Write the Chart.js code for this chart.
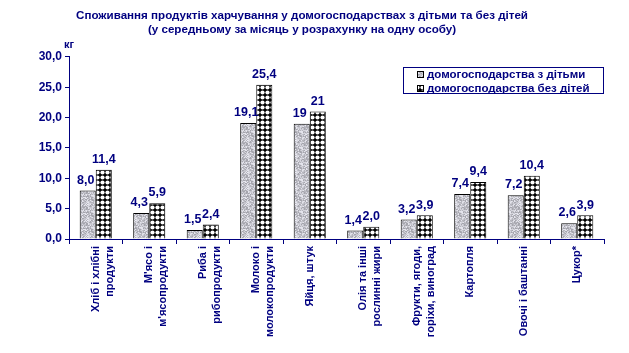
<!DOCTYPE html>
<html>
<head>
<meta charset="utf-8">
<script src="https://cdn.jsdelivr.net/npm/chart.js@4/dist/chart.umd.min.js"></script>
<style>
html,body{margin:0;padding:0;background:#fff;}
#wrap{position:relative;width:629px;height:353px;}
</style>
</head>
<body>
<div id="wrap"><canvas id="c" width="629" height="353"></canvas></div>
<script>
const titleLines = ["Споживання продуктів харчування у домогосподарствах з дітьми та без дітей", "(у середньому за місяць у розрахунку на одну особу)"];
const unitLabel = "кг";
const categories = [
  ["Хліб і хлібні", "продукти"],
  ["М'ясо і", "м'ясопродукти"],
  ["Риба і", "рибопродукти"],
  ["Молоко і", "молокопродукти"],
  "Яйця, штук",
  ["Олія та інші", "рослинні жири"],
  ["Фрукти, ягоди,", "горіхи, виноград"],
  "Картопля",
  "Овочі і баштанні",
  "Цукор*"
];
const seriesNames = ["домогосподарства з дітьми", "домогосподарства без дітей"];
const withChildren = [8.0, 4.3, 1.5, 19.1, 19, 1.4, 3.2, 7.4, 7.2, 2.6];
const withoutChildren = [11.4, 5.9, 2.4, 25.4, 21, 2.0, 3.9, 9.4, 10.4, 3.9];
const labelDecimals = [1, 1, 1, 1, 0, 1, 1, 1, 1, 1];
const yTicks = [0, 5, 10, 15, 20, 25, 30];

const NAVY = "#000080";
const FONT = "'Liberation Sans', Arial, sans-serif";

function makeGranite() {
  const c = document.createElement("canvas");
  c.width = 16; c.height = 16;
  const g = c.getContext("2d");
  const img = g.createImageData(16, 16);
  for (let i = 0; i < 256; i++) {
    let h = (i * 2654435761) >>> 0;
    h = ((h ^ (h >>> 13)) * 1274126177) >>> 0;
    const v = 165 + (h % 80);
    img.data[i*4] = v; img.data[i*4+1] = v; img.data[i*4+2] = Math.min(255, v + 8); img.data[i*4+3] = 255;
  }
  g.putImageData(img, 0, 0);
  return g.createPattern(c, "repeat");
}
function makeCircles() {
  const c = document.createElement("canvas");
  c.width = 5; c.height = 5;
  const g = c.getContext("2d");
  g.fillStyle = "#000"; g.fillRect(0, 0, 5, 5);
  g.fillStyle = "#fff";
  g.beginPath(); g.arc(2.5, 2.5, 2.1, 0, Math.PI * 2); g.fill();
  return g.createPattern(c, "repeat");
}
const granite = makeGranite();
const circles = makeCircles();

function fmt(v, d) { return v.toFixed(d).replace(".", ","); }

const valueLabels = {
  id: "valueLabels",
  afterDatasetsDraw(chart) {
    const ctx = chart.ctx;
    ctx.save();
    ctx.font = "bold 12.5px " + FONT;
    ctx.fillStyle = NAVY;
    ctx.textAlign = "center";
    ctx.textBaseline = "bottom";
    chart.data.datasets.forEach((ds, di) => {
      const meta = chart.getDatasetMeta(di);
      meta.data.forEach((el, i) => {
        ctx.fillText(fmt(ds.data[i], labelDecimals[i]), el.x - (di === 0 ? 2 : 0), el.y - 4);
      });
    });
    ctx.restore();
  }
};

const extras = {
  id: "extras",
  afterDraw(chart) {
    const ctx = chart.ctx;
    const ca = chart.chartArea;
    ctx.save();
    ctx.font = "bold 11px " + FONT;
    ctx.fillStyle = NAVY;
    ctx.textAlign = "left";
    ctx.textBaseline = "middle";
    ctx.fillText(unitLabel, ca.left - 5, ca.top - 12);
    // legend box
    const bx = 403, by = 67, bw = 200, bh = 26;
    ctx.strokeStyle = NAVY; ctx.lineWidth = 1;
    ctx.strokeRect(bx + 0.5, by + 0.5, bw, bh);
    const fills = [granite, circles];
    ctx.font = "bold 11.5px " + FONT;
    seriesNames.forEach((n, i) => {
      const cy = by + 7 + i * 14;
      ctx.fillStyle = fills[i];
      ctx.fillRect(417, cy - 3, 7, 7);
      ctx.strokeStyle = "#000";
      ctx.strokeRect(417.5, cy - 2.5, 6, 6);
      ctx.fillStyle = NAVY;
      ctx.fillText(n, 427, cy + 1);
    });
    ctx.restore();
  }
};

new Chart(document.getElementById("c"), {
  type: "bar",
  data: {
    labels: categories,
    datasets: [
      { label: seriesNames[0], data: withChildren, backgroundColor: granite, borderColor: "#000", borderWidth: 1, categoryPercentage: 0.6, barPercentage: 1.0 },
      { label: seriesNames[1], data: withoutChildren, backgroundColor: circles, borderColor: "#000", borderWidth: 1, categoryPercentage: 0.6, barPercentage: 1.0 }
    ]
  },
  options: {
    responsive: false,
    animation: false,
    layout: { padding: { left: 0, right: 25, top: 1, bottom: 0 } },
    plugins: {
      legend: { display: false },
      tooltip: { enabled: false },
      title: {
        display: true,
        text: titleLines,
        color: NAVY,
        font: { family: FONT, size: 11.6, weight: "bold", lineHeight: 1.2 },
        padding: { top: 8, bottom: 20 }
      }
    },
    scales: {
      x: {
        grid: { display: true, drawOnChartArea: false, offset: true, color: NAVY, tickLength: 5 },
        border: { color: NAVY },
        ticks: { color: NAVY, font: { family: FONT, size: 11, weight: "bold", lineHeight: 1.27 }, minRotation: 90, maxRotation: 90, autoSkip: false, padding: 2 },
        afterFit(s) { s.height = 114; }
      },
      y: {
        min: 0, max: 30,
        afterBuildTicks(s) { s.ticks = yTicks.map(v => ({ value: v })); },
        grid: { display: true, drawOnChartArea: false, color: NAVY, tickLength: 4 },
        border: { color: NAVY },
        ticks: { color: NAVY, font: { family: FONT, size: 12, weight: "bold" }, padding: 3, callback: v => fmt(v, 1) },
        afterFit(s) { s.width = 69; }
      }
    }
  },
  plugins: [valueLabels, extras]
});
</script>
</body>
</html>
